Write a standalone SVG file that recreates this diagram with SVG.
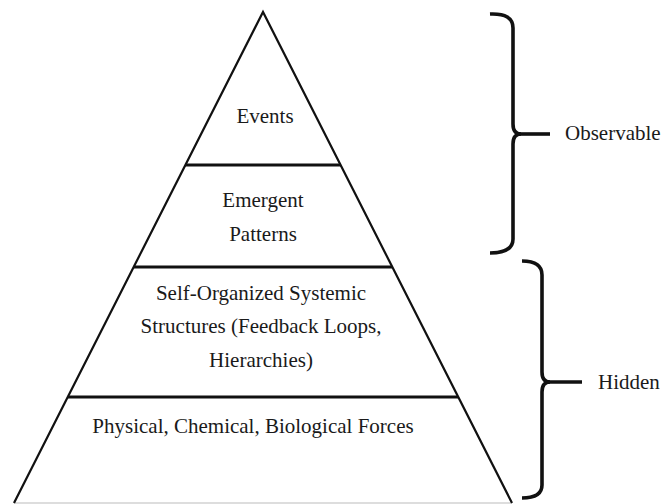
<svg xmlns="http://www.w3.org/2000/svg" width="666" height="504" viewBox="0 0 666 504">
<style>
text{font-family:"Liberation Serif","Times New Roman",serif;font-size:21px;fill:#1a1a1a}
.mid{text-anchor:middle}
.side{fill:none;stroke:#111;stroke-width:2.2}
.div{stroke:#111;stroke-width:3.2}
.brace{fill:none;stroke:#111;stroke-width:3.6;stroke-linecap:butt}
</style>
<rect width="666" height="504" fill="#fff"/>
<g id="pyramid">
<line x1="14" y1="503" x2="512" y2="503" stroke="#bbb" stroke-width="1.2"/>
<polyline class="side" points="14,503 263,12 512,503"/>
</g>
<g id="events">
<text class="mid" x="265" y="123">Events</text>
<line class="div" x1="185" y1="165" x2="341" y2="165"/>
</g>
<g id="emergent">
<text class="mid" x="263" y="207">Emergent</text>
<text class="mid" x="263" y="241">Patterns</text>
<line class="div" x1="134" y1="267" x2="392" y2="267"/>
</g>
<g id="structures">
<text class="mid" x="261" y="300">Self-Organized Systemic</text>
<text class="mid" x="261" y="333">Structures (Feedback Loops,</text>
<text class="mid" x="261" y="367">Hierarchies)</text>
<line class="div" x1="68" y1="397" x2="458" y2="397"/>
</g>
<g id="forces">
<text class="mid" x="253" y="433">Physical, Chemical, Biological Forces</text>
</g>
<g id="connectors">
<path class="brace" d="M490,14 Q513,13 513,28 L513,124 Q513,134 521,134 Q513,134 513,144 L513,239 Q513,253 490,253"/>
<line class="brace" x1="518" y1="134" x2="550" y2="134"/>
<path class="brace" d="M522,261 Q542,261 542,275 L542,372 Q542,382 550,382 Q542,382 542,392 L542,485 Q542,498 522,498"/>
<line class="brace" x1="547" y1="382" x2="582" y2="382"/>
</g>
<g id="observable">
<text x="565" y="140">Observable</text>
</g>
<g id="hidden">
<text x="598" y="389">Hidden</text>
</g>
</svg>
